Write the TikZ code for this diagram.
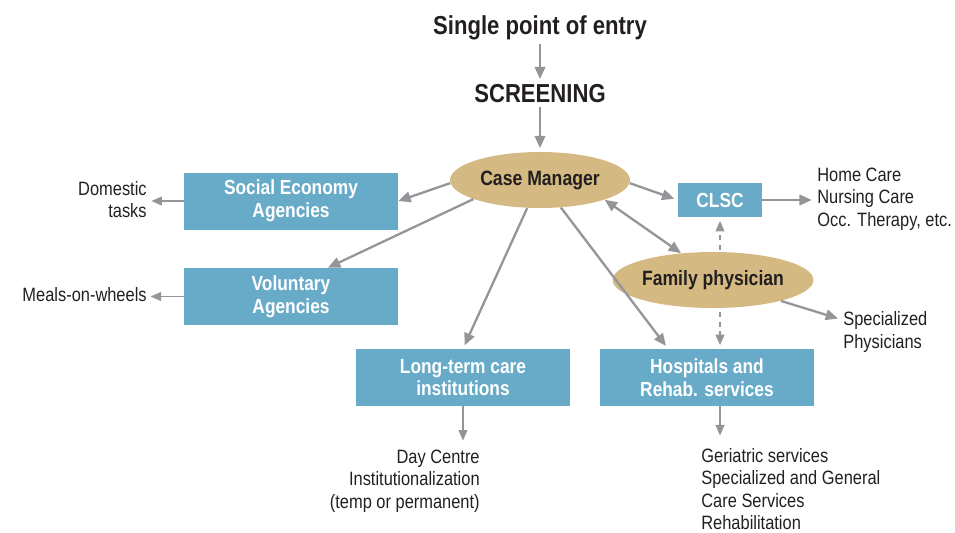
\documentclass[tikz,border=0pt]{standalone}
\usepackage{fontspec}
\setmainfont{Liberation Sans}[FakeStretch=0.85]
\usepackage{tikz}
\usepackage{xcolor}
\usetikzlibrary{calc}
\usetikzlibrary{arrows.meta}
\usetikzlibrary{shapes.geometric}

\definecolor{boxblue}{HTML}{68ABC8}
\definecolor{hubtan}{HTML}{D4B982}
\definecolor{arrgray}{HTML}{939598}
\definecolor{inkdark}{HTML}{231F20}

\tikzset{
  agency/.style={fill=boxblue, text=white, font=\bfseries\fontsize{11.6}{13}\selectfont,
    minimum width=4.28cm, minimum height=1.14cm, align=center, inner sep=0pt},
  hub/.style={ellipse, fill=hubtan, text=inkdark, font=\bfseries\fontsize{11.8}{13}\selectfont,
    inner sep=0pt},
  note/.style={text=inkdark, font=\fontsize{11}{12.8}\selectfont, inner sep=0pt},
  heading/.style={text=inkdark, font=\bfseries\fontsize{14.8}{16}\selectfont, inner sep=0pt},
  link/.style={arrgray, line width=1.3pt, -{Triangle[length=7pt,width=6pt]}},
  thinlink/.style={arrgray, line width=0.85pt, -{Triangle[length=6pt,width=5pt]}},
  dashlink/.style={thinlink, dash pattern=on 3pt off 2.5pt},
}

\begin{document}
\begin{tikzpicture}[x=0.02cm, y=-0.02cm]
\useasboundingbox (0,0) rectangle (955,532);

% top of the chain
\node[heading] (entry) at (540,28) {Single point of entry};
\node[heading] (screen) at (540,94) {SCREENING};
\node[hub, minimum width=3.6cm, minimum height=1.12cm] (cm) at (540,180) {Case Manager};
\node[hub, minimum width=3.52cm, minimum height=1.12cm] (fp) at (713,280) {Family physician};

% services
\node[agency] (sea) at (291,201) {Social Economy\\Agencies};
\node[agency] (vol) at (291,296.5) {Voluntary\\Agencies};
\node[agency] (ltc) at (463,377.5) {Long-term care\\institutions};
\node[agency] (hosp) at (707,377.5) {Hospitals and\\Rehab. services};
\node[agency, minimum width=1.68cm, minimum height=0.68cm] (clsc) at (720,200) {CLSC};

% outcomes
\node[note, anchor=east, align=right] (dom) at (147,199.5) {Domestic\\tasks};
\node[note, anchor=east] (meals) at (147,295) {Meals-on-wheels};
\node[note, anchor=west, align=left] (home) at (817,199) {Home Care\\Nursing Care\\Occ. Therapy, etc.};
\node[note, anchor=west, align=left] (spec) at (843,332) {Specialized\\Physicians};
\node[note, anchor=east, align=right] (day) at (480,481) {Day Centre\\Institutionalization\\(temp or permanent)};
\node[note, anchor=west, align=left] (geri) at (701,489) {Geriatric services\\Specialized and General\\Care Services\\Rehabilitation};

% connectors
\draw[link, shorten <=2pt, shorten >=3pt] (entry) -- (screen);
\draw[link, shorten <=2pt, shorten >=2pt] (screen) -- (cm);
\draw[link] (cm.182) -- (sea.east);
\draw[link] (cm.196) -- ([xshift=0.74cm]vol.north);
\draw[link, shorten >=2pt] (cm) -- (ltc.north);
\draw[link, shorten >=2pt] (cm) -- ([xshift=-0.78cm]hosp.north);
\draw[link, shorten >=2pt] (cm.-2) -- (clsc.west);
\draw[link, {Triangle[length=7pt,width=6pt]}-{Triangle[length=7pt,width=6pt]}] (cm.-17) -- (fp.140);
\draw[link, shorten >=3pt] (clsc.east) -- (home.west |- clsc.east);
\draw[link, shorten >=3pt] (fp) -- ([yshift=0.24cm]spec.west);
\draw[dashlink, shorten <=1pt, shorten >=2pt] (fp.north -| clsc.south) -- (clsc.south);
\draw[dashlink, shorten <=2pt, shorten >=2pt] (fp.south -| clsc.south) -- (hosp.north -| clsc.south);
\draw[thinlink, shorten >=2.5pt] (sea.west) -- (dom.east |- sea.west);
\draw[thinlink, shorten >=2pt] (vol.west) -- (meals.east |- vol.west);
\draw[thinlink, shorten >=5pt] (ltc.south) -- (ltc.south |- day.north);
\draw[thinlink, shorten >=7pt] (hosp.south -| clsc.south) -- (geri.north -| clsc.south);
\end{tikzpicture}
\end{document}
